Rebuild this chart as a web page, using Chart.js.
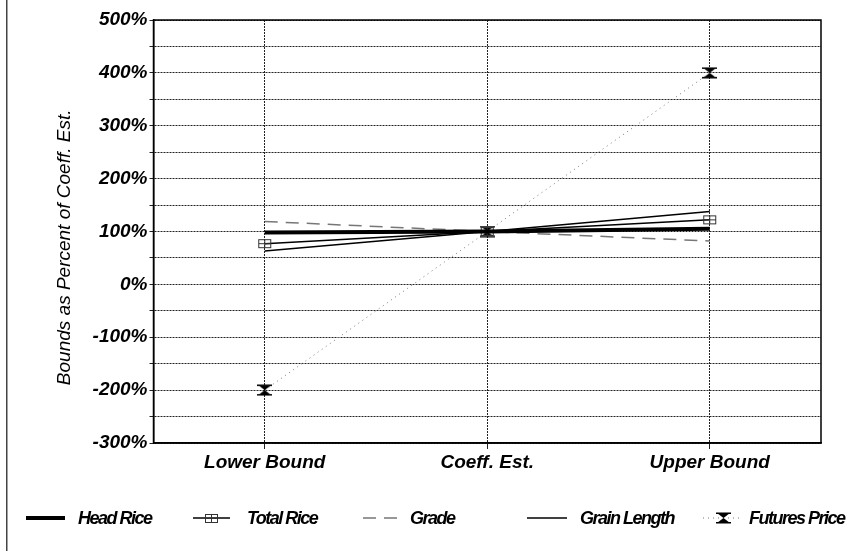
<!DOCTYPE html>
<html><head><meta charset="utf-8">
<script src="https://cdn.jsdelivr.net/npm/chart.js@4"></script>
<style>html,body{margin:0;padding:0;background:#fff;} canvas{display:block}</style>
</head><body>
<canvas id="c" width="865" height="551"></canvas>
<script>
const categories = ['Lower Bound', 'Coeff. Est.', 'Upper Bound'];
const headRice = [98, 100, 105];
const totalRice = [77, 100, 122];
const grade = [119, 100, 82];
const grainLength = [63, 100, 138];
const futuresPrice = [-200, 100, 400];
const seriesNames = ['Head Rice', 'Total Rice', 'Grade', 'Grain Length', 'Futures Price'];
const yMin = -300, yMax = 500, yStep = 50;
const yTitle = 'Bounds as Percent of Coeff. Est.';

const FONT = "'Liberation Sans', Arial, sans-serif";

function makeBoxPlus() {
  const c = document.createElement('canvas'); c.width = 15; c.height = 11;
  const g = c.getContext('2d');
  g.strokeStyle = '#333'; g.lineWidth = 1;
  g.strokeRect(1.5, 1.5, 12, 8);
  g.beginPath(); g.moveTo(7.5, 1.5); g.lineTo(7.5, 9.5); g.moveTo(1.5, 5.5); g.lineTo(13.5, 5.5); g.stroke();
  return c;
}
function makeHourglass() {
  const c = document.createElement('canvas'); c.width = 15; c.height = 12;
  const g = c.getContext('2d');
  g.fillStyle = '#000';
  g.beginPath(); g.moveTo(1, 1); g.lineTo(14, 1); g.lineTo(7.5, 6); g.closePath(); g.fill();
  g.beginPath(); g.moveTo(1, 11); g.lineTo(14, 11); g.lineTo(7.5, 6); g.closePath(); g.fill();
  g.fillRect(0, 0.5, 15, 1.5); g.fillRect(0, 10, 15, 1.5);
  return c;
}
const boxPlus = makeBoxPlus();
const hourglass = makeHourglass();

// legend layout: [lineStart, lineEnd, textStart]
const legendLayout = [[26, 65, 78], [193, 230, 247], [363, 397, 410], [527, 567, 580], [703, 743, 749]];
const legendY = 518;

const legendPlugin = {
  id: 'customLegend',
  afterDraw(chart) {
    const ctx = chart.ctx;
    ctx.save();
    ctx.fillStyle = '#444';
    ctx.fillRect(6, 0, 1.5, 551);
    chart.data.datasets.forEach((ds, i) => {
      const [a, b, t] = legendLayout[i];
      ctx.save();
      ctx.strokeStyle = ds.borderColor;
      ctx.lineWidth = ds.borderWidth;
      ctx.setLineDash(ds.borderDash || []);
      ctx.beginPath(); ctx.moveTo(a, legendY); ctx.lineTo(b, legendY); ctx.stroke();
      ctx.restore();
      if (ds.pointStyle instanceof HTMLCanvasElement) {
        const img = ds.pointStyle;
        ctx.drawImage(img, Math.round((a + b) / 2 - img.width / 2), Math.round(legendY - img.height / 2));
      }
      ctx.save();
      ctx.fillStyle = '#000';
      ctx.font = "italic bold 18px " + FONT;
      try { ctx.letterSpacing = '-1.5px'; } catch (e) {}
      ctx.textBaseline = 'middle';
      ctx.textAlign = 'left';
      ctx.fillText(ds.label, t, legendY + 1);
      ctx.restore();
    });
    ctx.restore();
  },
  beforeDatasetsDraw(chart) {
    const {ctx, chartArea: ca} = chart;
    ctx.save();
    ctx.strokeStyle = '#000'; ctx.lineWidth = 1.5;
    ctx.strokeRect(ca.left, ca.top, ca.right - ca.left, ca.bottom - ca.top);
    ctx.restore();
  }
};

const chart = new Chart(document.getElementById('c'), {
  type: 'line',
  data: {
    labels: categories,
    datasets: [
      { label: seriesNames[0], data: headRice, borderColor: '#000', borderWidth: 4, pointRadius: 0, tension: 0 },
      { label: seriesNames[1], data: totalRice, borderColor: '#000', borderWidth: 1.5, pointStyle: boxPlus, pointRadius: 6, tension: 0 },
      { label: seriesNames[2], data: grade, borderColor: '#777', borderWidth: 1.5, borderDash: [13, 8], pointRadius: 0, tension: 0 },
      { label: seriesNames[3], data: grainLength, borderColor: '#000', borderWidth: 1.5, pointRadius: 0, tension: 0 },
      { label: seriesNames[4], data: futuresPrice, borderColor: '#777', borderWidth: 1, borderDash: [1, 4], pointStyle: hourglass, pointRadius: 6, tension: 0 }
    ]
  },
  options: {
    responsive: false,
    animation: false,
    events: [],
    layout: { padding: { top: 20, right: 44, bottom: 68, left: 0 } },
    plugins: { legend: { display: false }, tooltip: { enabled: false } },
    scales: {
      x: {
        offset: true,
        grid: { color: '#222', lineWidth: 1, tickLength: 6, drawTicks: true, tickColor: '#222' },
        border: { display: true, color: '#000', width: 1.5, dash: [2, 1] },
        ticks: { color: '#000', font: { family: FONT, size: 19, style: 'italic', weight: 'bold' }, padding: 2, maxRotation: 0 },
        afterFit(s) { s.height = 40; }
      },
      y: {
        min: yMin, max: yMax,
        grid: { color: '#222', lineWidth: 1, tickLength: 4, drawTicks: true, tickColor: '#222' },
        border: { display: true, color: '#000', width: 1.5, dash: [2, 1] },
        ticks: {
          stepSize: yStep, autoSkip: false, color: '#000', padding: 2,
          font: { family: FONT, size: 19, style: 'italic', weight: 'bold' },
          callback: (v) => (v % 100 === 0 ? v + '%' : '')
        },
        title: {
          display: true, text: yTitle + '\u00A0\u00A0\u00A0\u00A0\u00A0\u00A0', color: '#000',
          font: { family: FONT, size: 19, style: 'italic', weight: 'normal' },
          padding: { top: 53, bottom: 0 }
        },
        afterFit(s) { s.width = 153.5; }
      }
    }
  },
  plugins: [legendPlugin]
});
</script>
</body></html>
